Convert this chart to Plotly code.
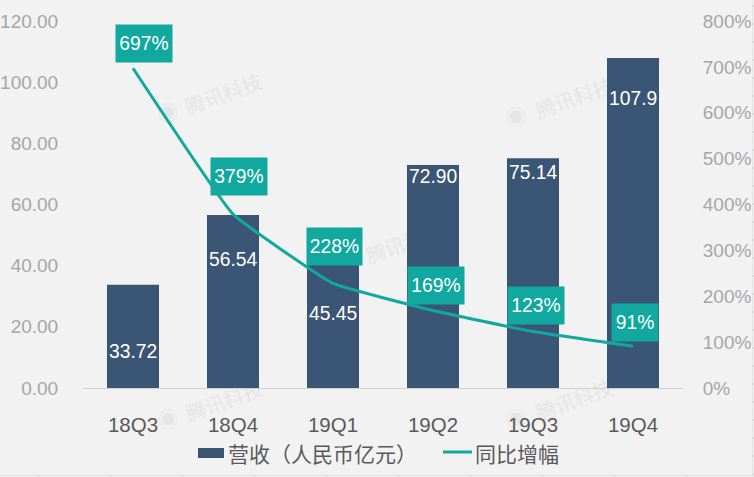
import plotly.graph_objects as go

categories = ["18Q3", "18Q4", "19Q1", "19Q2", "19Q3", "19Q4"]
revenue = [33.72, 56.54, 45.45, 72.90, 75.14, 107.9]
revenue_labels = ["33.72", "56.54", "45.45", "72.90", "75.14", "107.9"]
growth = [697, 379, 228, 169, 123, 91]
growth_labels = ["697%", "379%", "228%", "169%", "123%", "91%"]
left_ticks = [0, 20, 40, 60, 80, 100, 120]
left_tick_labels = ["0.00", "20.00", "40.00", "60.00", "80.00", "100.00", "120.00"]
right_ticks = [0, 100, 200, 300, 400, 500, 600, 700, 800]
right_tick_labels = ["0%", "100%", "200%", "300%", "400%", "500%", "600%", "700%", "800%"]
bar_name = "营收（人民币亿元）"
line_name = "同比增幅"
watermark = "腾讯科技"

BAR = "#3b5674"
TEAL = "#10a89f"
BG = "#f2f2f2"
FONT = "Liberation Sans, Arial, sans-serif"
CJK = "Noto Sans CJK SC, Liberation Sans, sans-serif"
W, H = 754, 477
ML, MR, MT, MB = 83, 71, 21, 89
PW, PH = W - ML - MR, H - MT - MB


def fx(px):
    return (px - ML) / PW


def fy(py):
    return 1 - (py - MT) / PH


fig = go.Figure()
fig.add_trace(go.Bar(x=categories, y=revenue, name=bar_name, marker_color=BAR,
                     marker_line_width=0, width=0.52, yaxis="y", showlegend=False))
fig.add_trace(go.Scatter(x=categories, y=growth, name=line_name, mode="lines", yaxis="y2", showlegend=False,
                         line=dict(color=TEAL, width=3, shape="spline", smoothing=0.3)))

annotations = []
bar_label_shift = [-67, -44, -64, -11, -14, -40]
for c, v, t, s in zip(categories, revenue, revenue_labels, bar_label_shift):
    annotations.append(dict(x=c, y=v, yref="y", xref="x", text=t, showarrow=False, yanchor="middle",
                            xanchor="center", yshift=s, font=dict(family=FONT, size=19.3, color="white")))

growth_shift_x = [10.5, 5.5, 1, 2.5, 2.5, 1.5]
growth_shift_y = [25, 38, 37, 25, 26, 23.5]
growth_box_w = [56, 56, 55, 56, 56, 46]
for c, v, t, sx, sy, w in zip(categories, growth, growth_labels, growth_shift_x, growth_shift_y, growth_box_w):
    annotations.append(dict(x=c, y=v, xref="x", yref="y2", text=t, showarrow=False, yanchor="middle",
                            xanchor="center", xshift=sx, yshift=sy, width=w, height=37, bgcolor=TEAL,
                            borderpad=0, align="center", valign="middle",
                            font=dict(family=FONT, size=19.3, color="white")))

# hand-made legend: wide bar swatch and line swatch as in the reference
annotations.append(dict(x=fx(226), y=fy(453), xref="paper", yref="paper", text=bar_name, showarrow=False,
                        xanchor="left", yanchor="middle", font=dict(family=CJK, size=21, color="#595959")))
annotations.append(dict(x=fx(473), y=fy(453), xref="paper", yref="paper", text=line_name, showarrow=False,
                        xanchor="left", yanchor="middle", font=dict(family=CJK, size=21, color="#595959")))

shapes = [
    dict(type="rect", xref="paper", yref="paper", x0=fx(198), x1=fx(224), y0=fy(458), y1=fy(448),
         fillcolor=BAR, line_width=0),
    dict(type="line", xref="paper", yref="paper", x0=fx(443), x1=fx(472), y0=fy(452), y1=fy(452),
         line=dict(color=TEAL, width=3)),
    dict(type="line", xref="paper", yref="paper", x0=fx(0), x1=fx(W), y0=fy(475.5), y1=fy(475.5),
         line=dict(color="#e2e2e2", width=1)),
    dict(type="line", xref="paper", yref="paper", x0=fx(752.5), x1=fx(752.5), y0=fy(0), y1=fy(H),
         line=dict(color="#e6e6e6", width=1)),
]
for px in range(39, W, 72):
    shapes.append(dict(type="line", xref="paper", yref="paper", x0=fx(px), x1=fx(px), y0=fy(H), y1=fy(475),
                       line=dict(color="#d2d2d2", width=1)))
for py in range(6, H, 18):
    shapes.append(dict(type="line", xref="paper", yref="paper", x0=fx(752), x1=fx(W), y0=fy(py), y1=fy(py),
                       line=dict(color="#d2d2d2", width=1)))

# faint watermark, drawn under the bars
for cx, cy, lx, ly in [(224, 96, 168, 115), (575, 100, 516, 119), (405, 245, 347, 264),
                       (225, 403, 168, 421), (575, 402, 516, 421)]:
    shapes.append(dict(type="rect", xref="paper", yref="paper", x0=fx(cx - 45), x1=fx(cx + 45),
                       y0=fy(cy + 15), y1=fy(cy - 15), line_width=0, fillcolor="rgba(0,0,0,0)", layer="below",
                       label=dict(text=watermark, textangle=-20, textposition="middle center",
                                  font=dict(family=CJK, size=20, color="#e5e5e5"))))
    shapes.append(dict(type="rect", xref="paper", yref="paper", x0=fx(lx - 14), x1=fx(lx + 14),
                       y0=fy(ly + 14), y1=fy(ly - 14), line_width=0, fillcolor="rgba(0,0,0,0)", layer="below",
                       label=dict(text="◉", textposition="middle center",
                                  font=dict(family=CJK, size=20, color="#e5e5e5"))))

fig.update_layout(
    width=W, height=H, paper_bgcolor=BG, plot_bgcolor=BG,
    margin=dict(l=ML, r=MR, t=MT, b=MB, autoexpand=False),
    showlegend=False,
    xaxis=dict(domain=[0, 1], type="category", showline=True, linecolor="#d0d0d0", linewidth=1, showgrid=False,
               ticks="outside", ticklen=18, tickcolor="rgba(0,0,0,0)",
               tickfont=dict(family=FONT, size=20.5, color="#595959")),
    yaxis=dict(range=[0, 120], tickvals=left_ticks, ticktext=left_tick_labels, showgrid=False, zeroline=False,
               showline=False, ticks="outside", ticklen=20, tickcolor="rgba(0,0,0,0)",
               tickfont=dict(family=FONT, size=19, color="#a6a6a6")),
    yaxis2=dict(range=[0, 800], overlaying="y", side="right", tickvals=right_ticks, ticktext=right_tick_labels,
                showgrid=False, zeroline=False, showline=False, ticks="outside", ticklen=15,
                tickcolor="rgba(0,0,0,0)", tickfont=dict(family=FONT, size=19, color="#a6a6a6")),
    annotations=annotations,
    shapes=shapes,
)
fig.write_html("out.html", config={"displayModeBar": False},
               post_script="document.body.style.margin='0';document.body.style.background='#f2f2f2';")
